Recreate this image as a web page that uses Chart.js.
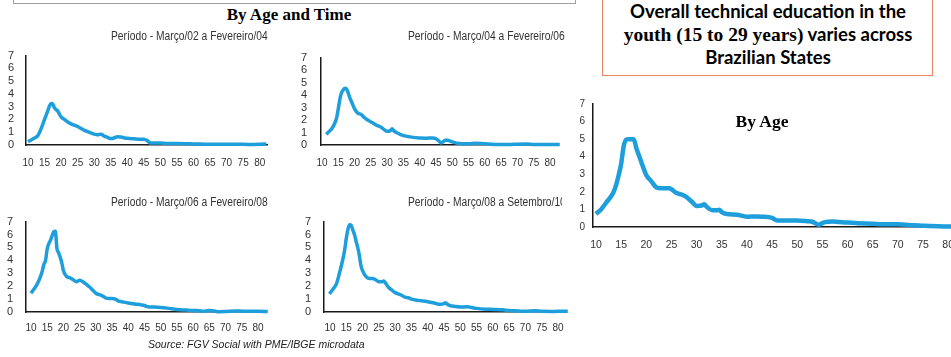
<!DOCTYPE html>
<html>
<head>
<meta charset="utf-8">
<script src="https://cdn.jsdelivr.net/npm/chart.js@4.4.1/dist/chart.umd.min.js"></script>
<style>
  html,body{margin:0;padding:0;background:#fff;}
  body{width:951px;height:357px;position:relative;overflow:hidden;}
  canvas{position:absolute;}
  .t{position:absolute;white-space:nowrap;z-index:2;}
  .sub{font-family:'Liberation Sans',sans-serif;font-size:12.5px;color:#333;display:inline-block;transform:scaleX(0.82);transform-origin:0 0;}
</style>
</head>
<body>
<div style="position:absolute;left:13px;top:-20px;width:561px;height:22px;border:1px solid #a0a0a0;"></div>
<div style="position:absolute;left:602px;top:-10px;width:329px;height:84px;border:1.5px solid #ea8461;"></div>
<div class="t" style="left:602px;top:0px;width:332px;text-align:center;font-weight:bold;font-size:18.5px;line-height:23px;color:#000;font-family:Lato,'Liberation Sans',sans-serif;">Overall technical education in the<br><span style="font-family:'Liberation Serif',serif;font-size:19.5px;">youth (15 to 29 years)</span> varies across<br>Brazilian States</div>
<div class="t" style="left:189px;top:5px;width:200px;text-align:center;font-family:'Liberation Serif',serif;font-weight:bold;font-size:17px;">By Age and Time</div>
<div class="t" style="left:111px;top:26px;"><span class="sub">Período - Março/02 a Fevereiro/04</span></div>
<div class="t" style="left:408px;top:26px;"><span class="sub">Período - Março/04 a Fevereiro/06</span></div>
<div class="t" style="left:111px;top:192px;"><span class="sub">Período - Março/06 a Fevereiro/08</span></div>
<div class="t" style="left:408px;top:192px;width:154px;overflow:hidden;"><span class="sub">Período - Março/08 a Setembro/10</span></div>
<div class="t" style="left:700px;top:111px;width:124px;text-align:center;font-family:'Liberation Serif',serif;font-weight:bold;font-size:17.5px;">By Age</div>
<div class="t" style="left:148px;top:338px;font-family:'Liberation Sans',sans-serif;font-style:italic;font-size:10.5px;color:#222;">Source: FGV Social with PME/IBGE microdata</div>

<canvas id="c1" width="280" height="140" style="left:0px;top:37px;"></canvas>
<canvas id="c2" width="285" height="140" style="left:290px;top:37px;"></canvas>
<canvas id="c3" width="280" height="140" style="left:0px;top:202px;"></canvas>
<canvas id="c4" width="285" height="140" style="left:290px;top:202px;"></canvas>
<canvas id="c5" width="410" height="170" style="left:560px;top:90px;"></canvas>

<script>
// ---- data ----
const xTicks = [10,15,20,25,30,35,40,45,50,55,60,65,70,75,80];
const yTicks = [0,1,2,3,4,5,6,7];

const ages1 = [10,11,12,13,14,15,16,16.5,17,17.5,18,19,20,21,22,23,24,25,26,27,28,29,30,31,32,33,34,35,36,37,38,40,42,44,45,46,47,48,50,52,55,58,60,62,65,68,70,73,75,78,80,82];
const vals1 = [0.25,0.4,0.55,0.75,1.3,2.0,2.7,3.05,3.25,3.2,2.9,2.65,2.2,2.0,1.8,1.65,1.55,1.45,1.3,1.15,1.05,0.95,0.85,0.8,0.85,0.7,0.6,0.5,0.55,0.65,0.62,0.52,0.48,0.45,0.45,0.35,0.15,0.15,0.15,0.12,0.12,0.1,0.08,0.07,0.05,0.05,0.05,0.05,0.05,0.04,0.05,0.08];

const ages2 = [11.3,12,13,14,14.5,15,15.5,16,16.5,17,17.5,18,18.5,19,20,21,22,23,24,25,26,27,28,29,30,31,31.5,32,33,34,35,37,40,42,44,45,46,46.5,47,48,49,50,52,55,57,60,63,65,68,70,73,75,78,80,83];
const vals2 = [0.85,1.05,1.3,1.8,2.2,2.9,3.7,4.2,4.4,4.55,4.5,4.2,3.8,3.5,2.9,2.55,2.45,2.2,2.0,1.85,1.7,1.55,1.45,1.25,1.1,1.15,1.3,1.15,0.98,0.85,0.75,0.65,0.56,0.55,0.56,0.5,0.3,0.17,0.22,0.4,0.35,0.25,0.12,0.1,0.15,0.1,0.05,0.05,0.05,0.07,0.08,0.05,0.05,0.05,0.05];

const ages3 = [10,11,12,13,13.5,14,14.5,15,15.5,16,16.5,17,17.5,18,18.5,19,19.5,20,21,22,23,24,25,26,27,28,29,30,31,32,33,34,35,36,37,38,40,42,44,45,46,48,50,52,55,58,60,62,63,65,66,68,70,73,75,78,80,83];
const vals3 = [1.45,1.8,2.2,2.8,3.2,3.7,4.0,4.9,5.3,5.55,5.9,6.2,6.25,4.9,4.6,4.25,3.8,3.2,2.75,2.65,2.5,2.35,2.45,2.35,2.15,1.95,1.7,1.45,1.35,1.25,1.1,1.05,1.05,1.0,0.85,0.8,0.7,0.62,0.55,0.5,0.4,0.38,0.35,0.3,0.2,0.15,0.12,0.1,0.05,0.12,0.1,0.02,0.03,0.08,0.06,0.05,0.05,0.04];

const ages4 = [9.8,11,12,13,13.5,14,14.5,15,15.5,16,16.5,17,17.5,18,18.5,19,19.5,20,21,22,23,24,25,26,26.5,27,28,29,30,31,32,33,34,35,37,40,42,43,44,45,45.5,46,47,48,50,52,55,58,60,63,65,68,70,73,75,78,80,83];
const vals4 = [1.4,1.8,2.2,3.1,3.6,4.15,4.8,5.7,6.4,6.75,6.7,6.35,6.0,5.5,5.0,4.4,3.6,3.2,2.75,2.6,2.6,2.5,2.35,2.35,2.4,2.25,1.9,1.7,1.5,1.4,1.3,1.15,1.1,1.0,0.9,0.8,0.7,0.62,0.6,0.65,0.72,0.6,0.48,0.45,0.38,0.4,0.28,0.22,0.2,0.17,0.12,0.08,0.05,0.1,0.05,0.04,0.05,0.05];

const ages5 = [10,11,12,13,13.5,14,14.5,15,15.5,16,16.5,17,17.5,18,18.5,19,20,21,22,23,24,24.5,25,26,27,28,29,30,31,31.5,32,33,34,34.5,35,36,38,40,42,43,45,46,48,50,52,53,54.3,55,55.5,57,60,62,65,68,70,73,75,78,80,81];
const vals5 = [0.74,1.0,1.38,1.75,2.0,2.4,2.95,3.6,4.6,4.97,5.0,5.0,5.0,4.5,4.1,3.7,2.95,2.6,2.25,2.2,2.2,2.2,2.15,1.93,1.85,1.7,1.45,1.2,1.22,1.29,1.15,0.96,0.95,0.98,0.85,0.74,0.7,0.59,0.6,0.59,0.52,0.37,0.37,0.37,0.33,0.3,0.13,0.22,0.28,0.31,0.25,0.22,0.18,0.15,0.15,0.1,0.07,0.04,0.03,0.02];

// ---- styling / layout ----
const LINE = '#1e9fdc';
const TICKFONT = "'Liberation Sans',sans-serif";

function build(id, ages, vals, L) {
  const pts = ages.map((a, i) => ({x: a, y: vals[i]}));
  new Chart(document.getElementById(id), {
    type: 'line',
    data: { datasets: [{ data: pts, borderColor: LINE, borderWidth: L.lw, pointRadius: 0,
      tension: 0.35, cubicInterpolationMode: 'monotone', fill: false,
      clip: {left: 2, top: 6, right: 10, bottom: 4} }] },
    options: {
      responsive: false, animation: false, devicePixelRatio: 1,
      layout: { padding: { top: L.padTop, right: L.padRight, left: 0, bottom: 0 } },
      plugins: { legend: {display: false}, tooltip: {enabled: false} },
      scales: {
        x: {
          type: 'linear', min: L.xmin, max: L.xmax,
          afterBuildTicks: s => { s.ticks = xTicks.map(v => ({value: v})); },
          afterFit: s => { s.height = L.xH; },
          grid: {display: false, drawTicks: false},
          border: {display: true, color: '#1a1a1a', width: 1.5},
          ticks: { autoSkip: false, maxRotation: 0, padding: L.xPad, color: '#333',
                   font: {family: TICKFONT, size: L.xFs} }
        },
        y: {
          min: 0, max: 7,
          afterBuildTicks: s => { s.ticks = yTicks.map(v => ({value: v})); },
          afterFit: s => { s.width = L.yW; },
          grid: {display: false, drawTicks: false},
          border: {display: true, color: '#1a1a1a', width: 1.5},
          ticks: { autoSkip: false, padding: L.yPad, color: '#333', font: {family: TICKFONT, size: L.yFs} }
        }
      }
    }
  });
}

build('c1', ages1, vals1, {padTop:10, padRight:13, yW:26, xH:32, xmin:9.4, xmax:82.2, xPad:12, yPad:12, xFs:10, yFs:11, lw:3.5});
build('c2', ages2, vals2, {padTop:10, padRight:18, yW:31, xH:32, xmin:9.69, xmax:82.15, xPad:12, yPad:14, xFs:10, yFs:11, lw:3.5});
build('c3', ages3, vals3, {padTop:10, padRight:18, yW:26, xH:30, xmin:8.46, xmax:81.23, xPad:10, yPad:13, xFs:10, yFs:11, lw:3.5});
build('c4', ages4, vals4, {padTop:10, padRight:10, yW:34, xH:30, xmin:8.16, xmax:82.15, xPad:10, yPad:13, xFs:10, yFs:11, lw:3.5});
build('c5', ages5, vals5, {padTop:10, padRight:12, yW:33, xH:33, xmin:9.4, xmax:81.96, xPad:12, yPad:8, xFs:10.5, yFs:10, lw:4.5});
</script>
</body>
</html>
